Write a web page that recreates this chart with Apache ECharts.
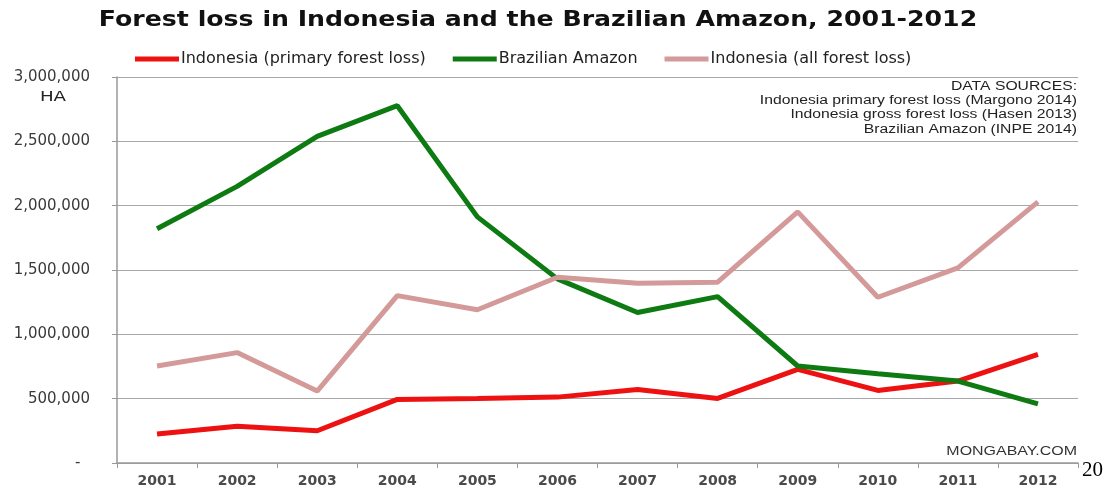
<!DOCTYPE html>
<html>
<head>
<meta charset="utf-8">
<script src="https://cdn.jsdelivr.net/npm/echarts@6/dist/echarts.min.js"></script>
<style>
html,body{margin:0;padding:0;background:#fff;}
#chart{width:1111px;height:488px;}
</style>
</head>
<body>
<div id="chart"></div>
<script>
const years = ['2001','2002','2003','2004','2005','2006','2007','2008','2009','2010','2011','2012'];
const indonesiaPrimary = [225000, 285000, 251000, 494000, 502000, 512000, 572000, 502000, 728000, 564000, 637000, 845000];
const brazilianAmazon = [1820000, 2150000, 2538000, 2777000, 1913000, 1431000, 1170000, 1293000, 754000, 694000, 637000, 459000];
const indonesiaAll = [754000, 858000, 559000, 1301000, 1191000, 1444000, 1397000, 1405000, 1952000, 1288000, 1517000, 2030000];
const seriesNames = ['Indonesia (primary forest loss)', 'Brazilian Amazon', 'Indonesia (all forest loss)'];
const seriesColors = ['#ee1111', '#0e7a12', '#d49a9a'];
const titleText = 'Forest loss in Indonesia and the Brazilian Amazon, 2001-2012';
const sourceLines = ['DATA SOURCES:', 'Indonesia primary forest loss (Margono 2014)', 'Indonesia gross forest loss (Hasen 2013)', 'Brazilian Amazon (INPE 2014)'];

const chart = echarts.init(document.getElementById('chart'));
const axisFont = 'DejaVu Sans';
const graphics = [
  {type:'text', x:538, y:21, scaleX:1.2, style:{text:titleText, font:'bold 21px "DejaVu Sans"', fill:'#111', textAlign:'center', textVerticalAlign:'middle'}},
  {type:'text', x:53, y:97, scaleX:1.3, style:{text:'HA', font:'14px "DejaVu Sans"', fill:'#222', textAlign:'center', textVerticalAlign:'middle'}},
  {type:'text', x:1077, y:452, scaleX:1.33, style:{text:'MONGABAY.COM', font:'12px "Liberation Sans"', fill:'#333', textAlign:'right', textVerticalAlign:'middle'}},
  {type:'text', x:1082, y:470, style:{text:'20', font:'21px "Liberation Serif"', fill:'#000', textVerticalAlign:'middle'}}
];
sourceLines.forEach((t,i)=>{
  graphics.push({type:'text', x:1077, y:86.5 + i*14.3, scaleX:1.31, style:{text:t, font:'12px "Liberation Sans"', fill:'#222', textAlign:'right', textVerticalAlign:'middle'}});
});

chart.setOption({
  animation:false,
  backgroundColor:'#fff',
  legend:{
    left:135, top:51, padding:0,
    itemWidth:44, itemHeight:5, itemGap:27,
    icon:'rect',
    textStyle:{fontFamily:'DejaVu Sans', fontSize:16, color:'#222', padding:[0,0,0,-3]},
    data:seriesNames
  },
  grid:{left:117, right:33, top:77, bottom:25, containLabel:false},
  xAxis:{
    type:'category', data:years, boundaryGap:true,
    axisLine:{lineStyle:{color:'#999', width:1.5}},
    axisTick:{show:true, length:5, alignWithLabel:false, lineStyle:{color:'#999'}},
    axisLabel:{fontFamily:axisFont, fontSize:14, fontWeight:'bold', color:'#4a4a4a', margin:11}
  },
  yAxis:{
    type:'value', min:0, max:3000000, interval:500000,
    axisLine:{show:true, lineStyle:{color:'#999', width:1.5}},
    axisTick:{show:true, length:5, lineStyle:{color:'#999'}},
    splitLine:{lineStyle:{color:'#a8a8a8', width:1.2}},
    axisLabel:{fontFamily:axisFont, fontSize:15, color:'#3a3a3a', margin:27,
      formatter:v => v === 0 ? '-  ' : v.toLocaleString('en-US')}
  },
  graphic:graphics,
  series:[
    {name:seriesNames[0], type:'line', data:indonesiaPrimary, symbol:'none', color:seriesColors[0], lineStyle:{width:5, color:seriesColors[0]}},
    {name:seriesNames[1], type:'line', data:brazilianAmazon, symbol:'none', color:seriesColors[1], lineStyle:{width:5, color:seriesColors[1]}},
    {name:seriesNames[2], type:'line', data:indonesiaAll, symbol:'none', color:seriesColors[2], lineStyle:{width:5, color:seriesColors[2]}}
  ]
});
</script>
</body>
</html>
